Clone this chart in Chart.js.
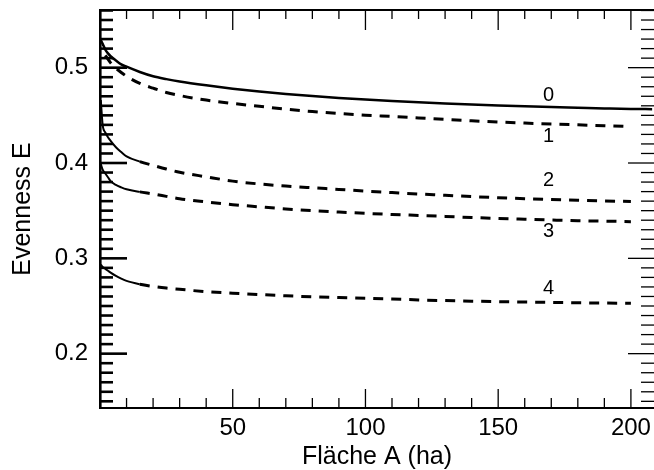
<!DOCTYPE html>
<html><head><meta charset="utf-8">
<script src="https://cdn.jsdelivr.net/npm/chart.js@4/dist/chart.umd.min.js"></script>
<style>html,body{margin:0;padding:0;background:#fff}#wrap{width:654px;height:470px}</style>
</head><body><div id="wrap"><canvas id="c" width="654" height="470"></canvas></div>
<script>
// Fläche A (ha)
const areas = [0.3, 1, 2, 3, 4, 6, 8, 10, 15, 20, 25, 30, 40, 50, 60, 70, 80, 90, 100, 110, 120, 130, 140, 150, 160, 170, 180, 190, 200, 208];
// Evenness E per curve
const curve0 = [0.529, 0.525, 0.519, 0.515, 0.512, 0.5075, 0.5035, 0.501, 0.4955, 0.491, 0.488, 0.4855, 0.4815, 0.478, 0.475, 0.4725, 0.4703, 0.4683, 0.4665, 0.465, 0.4637, 0.4625, 0.4614, 0.4604, 0.4595, 0.4587, 0.458, 0.4573, 0.4567, 0.4565];
const curve1 = [null, null, 0.513, 0.509, 0.505, 0.4995, 0.495, 0.491, 0.4835, 0.4785, 0.474, 0.4708, 0.466, 0.4625, 0.4595, 0.4565, 0.454, 0.452, 0.4502, 0.4488, 0.4473, 0.4457, 0.4443, 0.443, 0.4419, 0.4409, 0.44, 0.4391, 0.4382, null];
const curve2 = [0.466, 0.440, 0.432, 0.427, 0.4232, 0.4165, 0.4115, 0.407, 0.4015, 0.3975, 0.3937, 0.3903, 0.3855, 0.381, 0.378, 0.3758, 0.374, 0.3723, 0.3705, 0.369, 0.3675, 0.3662, 0.3648, 0.3636, 0.3626, 0.3617, 0.3609, 0.3602, 0.3596, null];
const curve3 = [0.399, 0.393, 0.389, 0.385, 0.381, 0.377, 0.3745, 0.3725, 0.3697, 0.3675, 0.365, 0.3625, 0.3592, 0.3563, 0.354, 0.3518, 0.35, 0.3485, 0.3472, 0.346, 0.345, 0.344, 0.3428, 0.3418, 0.341, 0.3402, 0.3395, 0.339, 0.3385, null];
const curve4 = [0.2935, 0.291, 0.289, 0.287, 0.285, 0.2815, 0.2787, 0.2763, 0.2728, 0.2705, 0.2688, 0.2675, 0.265, 0.2635, 0.262, 0.2607, 0.2596, 0.2588, 0.2581, 0.2573, 0.2564, 0.2557, 0.2551, 0.2546, 0.2542, 0.2538, 0.2534, 0.2531, 0.2529, null];
const curveNames = ['0', '1', '2', '3', '4'];
const labelArea = [169, 169, 169, 169, 169];
const labelEvenness = [0.471, 0.4275, 0.3815, 0.328, 0.268];
const xTickValues = [50, 100, 150, 200];
const yTickValues = [0.2, 0.3, 0.4, 0.5];

const curves = [curve0, curve1, curve2, curve3, curve4];
const solidUntil = [Infinity, 0, 15, 15, 15];
const FONT = "'Liberation Sans', Arial, Helvetica, sans-serif";

const frameTicks = {
  id: 'frameTicks',
  afterDraw(chart) {
    const {ctx, chartArea: a, scales: {x, y}} = chart;
    ctx.save();
    ctx.strokeStyle = '#000';
    ctx.lineCap = 'butt';
    ctx.lineWidth = 2;
    ctx.beginPath(); ctx.moveTo(a.left - 1, a.top); ctx.lineTo(a.right, a.top); ctx.stroke();
    for (let v = 10; v <= x.max; v += 10) {
      const px = x.getPixelForValue(v);
      const major = v % 50 === 0;
      ctx.lineWidth = 1.3;
      ctx.beginPath(); ctx.moveTo(px, a.bottom); ctx.lineTo(px, a.bottom - (major ? 19 : 10)); ctx.stroke();
      ctx.beginPath(); ctx.moveTo(px, a.top); ctx.lineTo(px, a.top + (major ? 20 : 9)); ctx.stroke();
    }
    for (let i = Math.ceil(y.min * 100); i <= Math.floor(y.max * 100); i++) {
      const py = y.getPixelForValue(i / 100);
      const major = i % 10 === 0;
      ctx.lineWidth = 2.6;
      ctx.beginPath(); ctx.moveTo(a.left, py); ctx.lineTo(a.left + (major ? 27 : 13), py); ctx.stroke();
      ctx.lineWidth = 1.3;
      ctx.beginPath(); ctx.moveTo(a.right, py); ctx.lineTo(a.right - (major ? 26 : 13), py); ctx.stroke();
    }
    ctx.fillStyle = '#000';
    ctx.font = '20px ' + FONT;
    ctx.textAlign = 'center';
    ctx.textBaseline = 'middle';
    curveNames.forEach((n, i) => {
      ctx.fillText(n, x.getPixelForValue(labelArea[i]), y.getPixelForValue(labelEvenness[i]));
    });
    ctx.restore();
  }
};

new Chart(document.getElementById('c'), {
  type: 'line',
  data: {
    datasets: curves.map((vals, i) => ({
      label: curveNames[i],
      data: areas.map((a, k) => ({x: a, y: vals[k]})).filter(p => p.y !== null),
      borderColor: '#000',
      borderWidth: i === 0 ? 2.5 : 3,
      pointRadius: 0,
      fill: false,
      cubicInterpolationMode: 'monotone',
      segment: {
        borderDash: ctx => (ctx.p0.parsed.x >= solidUntil[i]) ? [10, 8] : undefined,
        borderWidth: ctx => (i > 1 && ctx.p0.parsed.x < solidUntil[i]) ? 2 : undefined
      }
    }))
  },
  options: {
    responsive: false,
    devicePixelRatio: 1,
    animation: false,
    layout: {padding: {top: 10, right: 0, left: 0, bottom: 0}},
    plugins: {legend: {display: false}, tooltip: {enabled: false}},
    scales: {
      x: {
        type: 'linear', min: 0, max: 208.7,
        afterBuildTicks: s => { s.ticks = xTickValues.map(v => ({value: v})); },
        afterFit: s => { s.height = 62; s.paddingLeft = 0; s.paddingRight = 0; },
        ticks: {font: {family: FONT, size: 24}, color: '#000', padding: 6, maxRotation: 0, autoSkip: false},
        grid: {display: false, drawTicks: false},
        border: {display: true, color: '#000', width: 2},
        title: {display: true, text: 'Fläche A (ha)', color: '#000', font: {family: FONT, size: 25, lineHeight: 1.0}, padding: {top: 0, bottom: 0}}
      },
      y: {
        type: 'linear', min: 0.143, max: 0.5605,
        afterBuildTicks: s => { s.ticks = yTickValues.map(v => ({value: v})); },
        afterFit: s => { s.width = 100; s.paddingTop = 0; s.paddingBottom = 0; },
        ticks: {font: {family: FONT, size: 24}, color: '#000', padding: 12, callback: v => v.toFixed(1)},
        grid: {display: false, drawTicks: false},
        border: {display: true, color: '#000', width: 2.6},
        title: {display: true, text: 'Evenness E', color: '#000', font: {family: FONT, size: 25, lineHeight: 1.0}, padding: {top: 11, bottom: 0}}
      }
    }
  },
  plugins: [frameTicks]
});
</script>
</body></html>
